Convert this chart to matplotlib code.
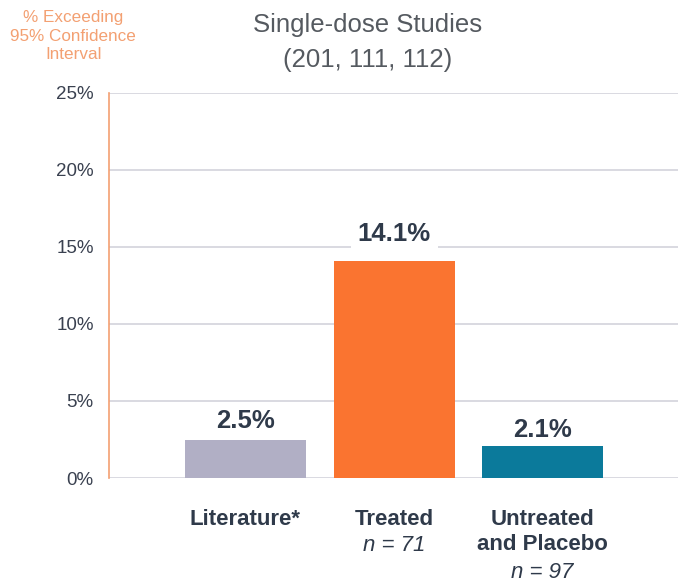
import matplotlib.pyplot as plt

# Data
categories = ["Literature*", "Treated", "Untreated\nand Placebo"]
sample_sizes = ["", "n = 71", "n = 97"]
values = [2.5, 14.1, 2.1]
value_labels = ["2.5%", "14.1%", "2.1%"]
yticks = [0, 5, 10, 15, 20, 25]
ytick_labels = ["0%", "5%", "10%", "15%", "20%", "25%"]
bar_colors = ["#b1afc5", "#fa7430", "#0b7a9b"]

plt.rcParams['font.family'] = ['Liberation Sans', 'DejaVu Sans']

text_dark = "#2f3a4a"
orange_light = "#f3a072"

fig = plt.figure(figsize=(6.85, 5.84), dpi=100)
ax = fig.add_axes([0.159, 0.1815, 0.831, 0.6593])

x = list(range(len(categories)))
ax.bar(x, values, width=0.815, color=bar_colors, zorder=3)

ax.set_xlim(-0.919, 2.912)
ax.set_ylim(0, 25)
ax.set_yticks(yticks)
ax.set_yticklabels(ytick_labels, fontsize=13.5, color="#3a4150")
ax.tick_params(axis='y', length=0, pad=11)
ax.set_xticks([])
ax.grid(axis='y', color="#d3d3dc", linewidth=1.2, zorder=0)

for side in ['top', 'right', 'bottom']:
    ax.spines[side].set_visible(False)
ax.spines['left'].set_color(orange_light)
ax.spines['left'].set_linewidth(1.2)

# value labels above bars
offsets = [13, 19.5, 11.5]
for i, (v, lab) in enumerate(zip(values, value_labels)):
    kw = {}
    if i == 1:
        kw['bbox'] = dict(facecolor='white', edgecolor='none', pad=5)
    ax.annotate(lab, xy=(i, v), xytext=(0, offsets[i]), textcoords='offset points',
                ha='center', va='center', fontsize=18.5, fontweight='bold',
                color=text_dark, zorder=4, **kw)

# category labels below axis
for i, (cat, n) in enumerate(zip(categories, sample_sizes)):
    ax.annotate(cat, xy=(i, 0), xycoords=('data', 'axes fraction'),
                xytext=(0, -22), textcoords='offset points',
                ha='center', va='top', fontsize=16, fontweight='bold',
                color=text_dark, linespacing=1.25, annotation_clip=False)
    if n:
        nlines = cat.count("\n") + 1
        ax.annotate(n, xy=(i, 0), xycoords=('data', 'axes fraction'),
                    xytext=(0, -21.5 - 19.5 * nlines), textcoords='offset points',
                    ha='center', va='top', fontsize=16, fontstyle='italic',
                    color=text_dark, annotation_clip=False)

fig.text(0.537, 0.978, "Single-dose Studies\n(201, 111, 112)", ha='center', va='top',
         fontsize=18.5, color="#555a60", linespacing=1.6)
fig.text(0.107, 0.983, "% Exceeding\n95% Confidence\nInterval", ha='center', va='top',
         fontsize=12.3, color=orange_light, linespacing=1.3)

fig.savefig("out.png", dpi=100)
